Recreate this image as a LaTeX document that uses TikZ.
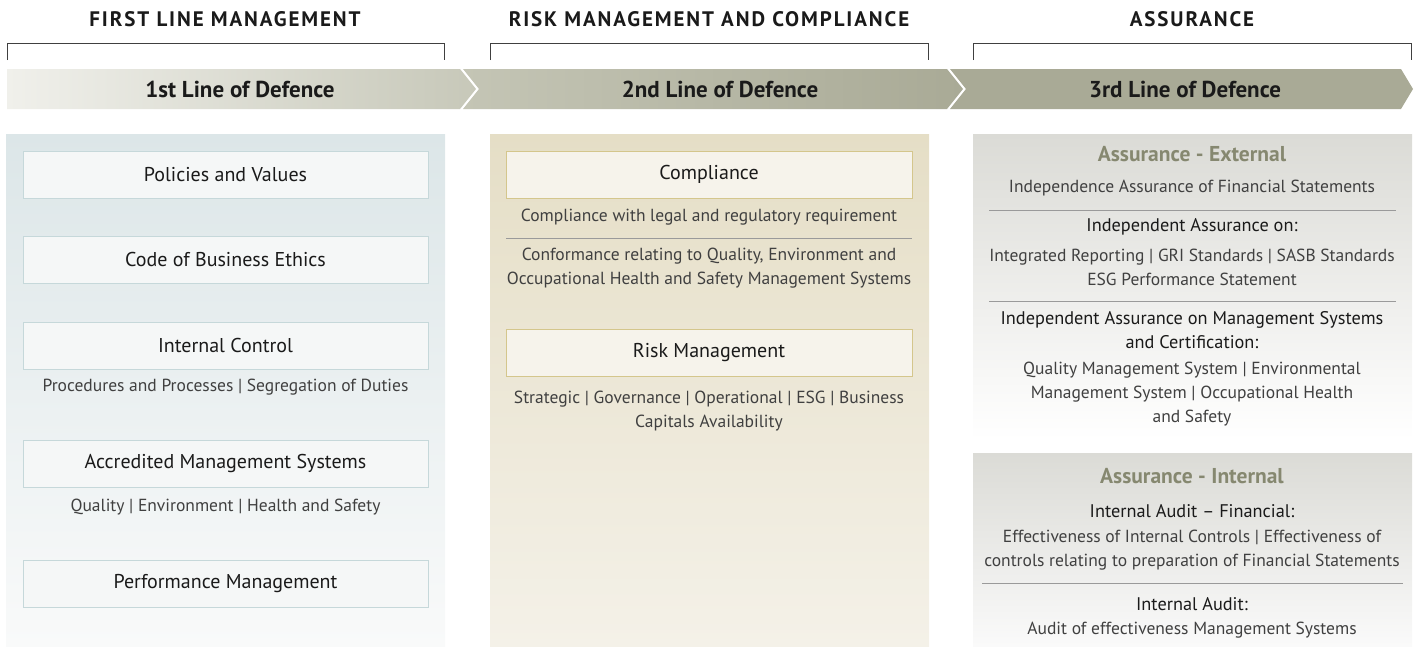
\documentclass[tikz,border=0pt]{standalone}
\usepackage{fontspec}
\setmainfont{PT Sans}
\newfontfamily\spacedfont[LetterSpace=9.0]{PT Sans}
\usetikzlibrary{positioning}
\definecolor{txt}{HTML}{404040}
\definecolor{ttl}{HTML}{1A1A1A}
\definecolor{olive}{HTML}{868870}
\definecolor{bluebox}{HTML}{F5F7F7}
\definecolor{blueedge}{HTML}{C6D8DA}
\definecolor{tanbox}{HTML}{F6F3EB}
\definecolor{tanedge}{HTML}{D4C68C}
\definecolor{rule}{HTML}{9A9A9A}
\definecolor{bandA}{HTML}{F0F0EB}
\definecolor{bandB}{HTML}{C7C8B9}
\definecolor{bandC}{HTML}{C4C5B5}
\definecolor{bandD}{HTML}{A9AA96}
\definecolor{pbtop}{HTML}{DCE6E8}
\definecolor{pbbot}{HTML}{F9FAFA}
\definecolor{pttop}{HTML}{E5DEC6}
\definecolor{ptbot}{HTML}{F4F1E8}
\definecolor{pgtop}{HTML}{DBDBD6}
\definecolor{pgbot}{HTML}{FAFAFA}
\tikzset{
  hdr/.style={font=\spacedfont\bfseries\fontsize{21}{24}\selectfont, text=ttl},
  band/.style={font=\bfseries\fontsize{23}{26}\selectfont, text=ttl},
  bbox/.style={draw=blueedge, fill=bluebox, line width=0.8pt, minimum width=405pt, minimum height=47pt, font=\fontsize{20}{24}\selectfont, text=ttl},
  tbox/.style={draw=tanedge, fill=tanbox, line width=0.8pt, minimum width=406pt, minimum height=47pt, font=\fontsize{20}{24}\selectfont, text=ttl},
  desc/.style={font=\fontsize{17.5}{24}\selectfont, text=txt, align=center, inner sep=0pt},
  dhead/.style={font=\fontsize{18.3}{24}\selectfont, text=ttl, align=center, inner sep=0pt},
  ohead/.style={font=\bfseries\fontsize{21.5}{24}\selectfont, text=olive, inner sep=0pt},
  brk/.style={draw=black!75, line width=0.8pt},
  sep/.style={draw=rule, line width=0.8pt},
}
\begin{document}
\begin{tikzpicture}[x=1pt,y=-1pt]
\useasboundingbox (0,0) rectangle (1422,646);
% headers
\node[hdr] (h1) at (225,19) {FIRST LINE MANAGEMENT};
\node[hdr] (h2) at (709,19) {RISK MANAGEMENT AND COMPLIANCE};
\node[hdr] (h3) at (1192,19) {ASSURANCE};
\draw[brk] (7,60) -- (7,43) -- (444,43) -- (444,60);
\draw[brk] (490,60) -- (490,43) -- (928,43) -- (928,60);
\draw[brk] (973,60) -- (973,43) -- (1411,43) -- (1411,60);
% band
\shade[left color=bandA, right color=bandB] (7,69) -- (460,69) -- (476,89) -- (460,109) -- (7,109) -- cycle;
\shade[left color=bandC, right color=bandD] (463,69) -- (947,69) -- (963,89) -- (947,109) -- (463,109) -- (479,89) -- cycle;
\fill[bandD] (950,69) -- (1401,69) -- (1413,89) -- (1401,109) -- (950,109) -- (966,89) -- cycle;
\node[band] (b1) at (240,89.5) {1st Line of Defence};
\node[band] (b2) at (720,89.5) {2nd Line of Defence};
\node[band] (b3) at (1185,89.5) {3rd Line of Defence};
% panels
\shade[top color=pbtop, bottom color=pbbot] (6,134) rectangle (445,646);
\shade[top color=pttop, bottom color=ptbot] (490,134) rectangle (929,646);
\shade[top color=pgtop, bottom color=white] (973,134) rectangle (1412,440);
\shade[top color=pgtop, bottom color=pgbot] (973,453) rectangle (1412,646);
% panel 1
\node[bbox] (p1) at (225.5,174.5) {Policies and Values};
\node[bbox] (p2) at (225.5,259.5) {Code of Business Ethics};
\node[bbox] (p3) at (225.5,345.5) {Internal Control};
\node[desc] (p3d) at (225.5,387) {Procedures and Processes | Segregation of Duties};
\node[bbox] (p4) at (225.5,463.5) {Accredited Management Systems};
\node[desc] (p4d) at (225.5,507) {Quality | Environment | Health and Safety};
\node[bbox] (p5) at (225.5,584) {Performance Management};
% panel 2
\node[tbox] (c1) at (709,174.5) {Compliance};
\node[desc] (c1d) at (709,217) {Compliance with legal and regulatory requirement};
\draw[sep] (506,238) -- (912,238);
\node[desc] (c1e) at (709,268) {Conformance relating to Quality, Environment and\\Occupational Health and Safety Management Systems};
\node[tbox] (c2) at (709,353) {Risk Management};
\node[desc] (c2d) at (709,411) {Strategic | Governance | Operational | ESG | Business\\Capitals Availability};
% panel 3 external
\node[ohead] (e0) at (1192,154) {Assurance - External};
\node[desc] (e1) at (1192,188) {Independence Assurance of Financial Statements};
\draw[sep] (989,210) -- (1396,210);
\node[dhead] (e2) at (1192,227) {Independent Assurance on:};
\node[desc] (e3) at (1192,267) {Integrated Reporting | GRI Standards | SASB Standards\\ESG Performance Statement};
\draw[sep] (989,301) -- (1396,301);
\node[dhead] (e4) at (1192,330) {Independent Assurance on Management Systems\\and Certification:};
\node[desc] (e5) at (1192,394) {Quality Management System | Environmental\\Management System | Occupational Health\\and Safety};
% panel 3 internal
\node[ohead] (i0) at (1192,476) {Assurance - Internal};
\node[dhead] (i1) at (1192,511) {Internal Audit -- Financial:};
\node[desc] (i2) at (1192,550) {Effectiveness of Internal Controls | Effectiveness of\\controls relating to preparation of Financial Statements};
\draw[sep] (982,583) -- (1403,583);
\node[dhead] (i3) at (1192,604) {Internal Audit:};
\node[desc] (i4) at (1192,630) {Audit of effectiveness Management Systems};
\end{tikzpicture}
\end{document}
